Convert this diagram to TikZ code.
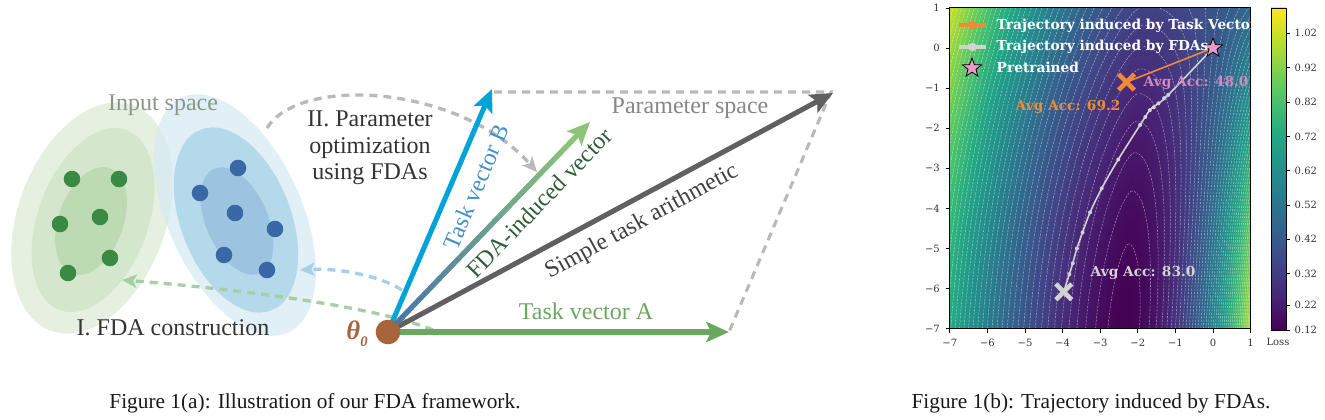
\documentclass[tikz,border=0pt]{standalone}
\usepackage{fontspec}
\setmainfont{Liberation Serif}
\newfontfamily\plotfont{DejaVu Serif}
\usetikzlibrary{arrows.meta,calc,shapes.geometric,shapes.misc}

\definecolor{tvA}{HTML}{6AA760}
\definecolor{tvB}{HTML}{00A3D9}
\definecolor{fdaS}{HTML}{4A70AD}
\definecolor{fdaE}{HTML}{8CC47A}
\definecolor{simp}{HTML}{606060}
\definecolor{thetac}{HTML}{A8643A}
\definecolor{lblB}{HTML}{4590C8}
\definecolor{lblF}{HTML}{2F5D36}
\definecolor{lblS}{HTML}{404040}
\definecolor{lblP}{HTML}{868686}
\definecolor{lblIn}{HTML}{8A968A}
\definecolor{txt}{HTML}{333333}
\definecolor{dashG}{HTML}{B9B9B9}
\definecolor{dashB}{HTML}{A9CEE8}
\definecolor{dashGr}{HTML}{A7CFA5}
\definecolor{gA}{HTML}{E6F0E0}
\definecolor{gB}{HTML}{D4E7CC}
\definecolor{gC}{HTML}{BCDBB2}
\definecolor{bA}{HTML}{D7EAF3}
\definecolor{bB}{HTML}{B3D9EB}
\definecolor{bC}{HTML}{9CC3DF}
\definecolor{dotG}{HTML}{3A8A46}
\definecolor{dotB}{HTML}{3A68A6}
\definecolor{orangeT}{HTML}{F08A35}
\definecolor{grayT}{HTML}{D2D2D2}
\definecolor{pinkS}{HTML}{E69BC9}
\definecolor{pinkT}{HTML}{D08AC0}

\definecolor{v0}{RGB}{68,1,84}
\definecolor{v1}{RGB}{72,36,117}
\definecolor{v2}{RGB}{65,68,135}
\definecolor{v3}{RGB}{53,95,141}
\definecolor{v4}{RGB}{42,120,142}
\definecolor{v5}{RGB}{33,145,140}
\definecolor{v6}{RGB}{34,168,132}
\definecolor{v7}{RGB}{68,191,112}
\definecolor{v8}{RGB}{122,209,81}
\definecolor{v9}{RGB}{189,223,38}
\definecolor{v10}{RGB}{253,231,37}
\definecolor{v11}{RGB}{253,231,37}

\pgfdeclareverticalshading{virbar}{100bp}{rgb(0bp)=(0.267,0.004,0.329); rgb(25bp)=(0.267,0.004,0.329); rgb(30bp)=(0.282,0.141,0.459); rgb(35bp)=(0.255,0.267,0.529); rgb(40bp)=(0.208,0.373,0.553); rgb(45bp)=(0.165,0.471,0.557); rgb(50bp)=(0.129,0.569,0.549); rgb(55bp)=(0.133,0.659,0.518); rgb(60bp)=(0.267,0.749,0.439); rgb(65bp)=(0.478,0.820,0.318); rgb(70bp)=(0.741,0.875,0.149); rgb(75bp)=(0.992,0.906,0.145); rgb(100bp)=(0.992,0.906,0.145)}

\tikzset{
  lbl/.style={font=\fontsize{18}{20}\selectfont},
  vec/.style={line width=3.8pt, -{Stealth[length=17pt,width=15pt,inset=3.5pt]}},
  dsh/.style={line width=2.5pt, dash pattern=on 6pt off 4.5pt, -{Stealth[length=11pt,width=10pt,inset=2.5pt]}},
  pdash/.style={line width=2.3pt, dash pattern=on 6pt off 4.5pt, dashG},
  cline/.style={draw=white, opacity=0.5, line width=0.4pt, dash pattern=on 1.6pt off 1pt},
  pfont/.style={font=\plotfont\bfseries\fontsize{10.3}{12}\selectfont},
  tfont/.style={font=\plotfont\fontsize{7.5}{9}\selectfont, text=txt},
  declare function={xc(\u)=-2.4+0.07*(\u+7); aR(\u)=0.075-0.0009*(\u+7)^2;
    lossf(\u,\v)=0.12+0.0028*(\v+7.2)^2+(((\u-xc(\v))>0) ? (aR(\v)*(\u-xc(\v))^2) : (0.06*abs(\u-xc(\v))*sqrt(abs(\u-xc(\v)))));}
}

\begin{document}
\begin{tikzpicture}[x=0.75pt,y=-0.75pt]
\useasboundingbox (0,0) rectangle (1325,420);

% ---------- input space ellipses ----------
\fill[gA, rotate around={70:(92,218)}] (92,218) ellipse [x radius=120, y radius=74];
\fill[gB, rotate around={69.6:(93,220)}] (93,220) ellipse [x radius=96, y radius=55];
\fill[gC, rotate around={70.6:(91,221)}] (91,221) ellipse [x radius=56, y radius=32.5];
\fill[bA, fill opacity=0.75, rotate around={-65.7:(235,215)}] (235,215) ellipse [x radius=129, y radius=67];
\fill[bB, rotate around={-68.7:(236,220)}] (236,220) ellipse [x radius=97, y radius=55];
\fill[bC, rotate around={-66.3:(237,221)}] (237,221) ellipse [x radius=57, y radius=31];

\foreach \p in {(72,179),(119,179),(60,224),(100,217),(110,258),(68,273)}
  \fill[dotG] \p circle (6.2pt);
\foreach \p in {(238,168),(200,193),(235,213),(275,229),(224,255),(267,270)}
  \fill[dotB] \p circle (6.2pt);

\node[lbl, text=lblIn] (inp) at (163,105) {Input space};
\node[lbl, text=txt] (fdac) at (173,328) {I. FDA construction};
\node[lbl, text=txt, align=center] (popt) at (370,148) {II. Parameter\\optimization\\using FDAs};

% ---------- coordinates ----------
\coordinate (O) at (388,332);
\coordinate (TA) at (729,332);
\coordinate (TB) at (492,89);
\coordinate (TF) at (590,122);
\coordinate (TS) at (833,93);
\coordinate (PB) at (494,92);
\coordinate (PS) at (831,92);
\coordinate (gs) at (433,330);
\coordinate (ge) at (122,280);
\coordinate (bs) at (402,290);
\coordinate (be) at (300,270);
\coordinate (ps) at (267,128);
\coordinate (pe) at (537,172);

% dashed curves
\draw[dsh, dashGr] (gs) .. controls (380,308) and (250,290) .. (ge);
\draw[dsh, dashB] (bs) .. controls (380,276) and (340,268) .. (be);
\draw[dsh, dashG] (ps) .. controls (300,75) and (460,85) .. (pe);
\draw[pdash] (PB) -- (PS) -- (TA);

% ---------- vectors ----------
\draw[vec, tvA] (O) -- (TA);
\draw[vec, simp] (O) -- (TS);
\draw[vec, fdaE] (O) -- (TF);
\foreach \i in {0,...,39}{
  \pgfmathsetmacro\pc{100*\i/39}
  \draw[line width=3.8pt, color=fdaE!\pc!fdaS] ($(O)!{\i*0.925/40}!(TF)$) -- ($(O)!{(\i+1)*0.925/40+0.003}!(TF)$);
}
\draw[vec, tvB] (O) -- (TB);

\node[lbl, text=lblB, rotate=66.8] (lB) at (476,187) {Task vector B};
\node[lbl, text=lblF, rotate=46] (lF) at (539,203) {FDA-induced vector};
\node[lbl, text=lblS, rotate=28.6] (lS) at (642,222) {Simple task arithmetic};
\node[lbl, text=tvA] (lA) at (586,311) {Task vector A};
\node[lbl, text=lblP] (lP) at (690,108) {Parameter space};

\node[circle, fill=thetac, minimum size=18.5pt, inner sep=0pt] (th) at (O) {};
\node[text=thetac, inner sep=0pt] (thl) at (357,334) {\fontsize{20}{20}\selectfont\bfseries\itshape θ\raisebox{-0.28em}{\fontsize{11}{11}\selectfont 0}};

% ---------- heat map ----------
\begin{scope}[shift={(1213,48)}, x=28.2pt, y=30.075pt]
  \begin{scope}
    \clip (-7,-7) rectangle (1,1);
    \foreach \r in {0,...,79}{
      \pgfmathsetmacro\yc{-7+(\r+0.5)*0.1}
      \foreach \j in {0,...,25}{
        \pgfmathsetmacro\xv{-7+\j*0.32}
        \pgfmathsetmacro\fv{lossf(\xv,\yc)}
        \pgfmathsetmacro\vv{max(0,min(9.999,(\fv-0.12)/0.0976))}
        \pgfmathtruncatemacro\ii{\vv}
        \pgfmathtruncatemacro\jj{\ii+1}
        \pgfmathtruncatemacro\pct{round(100*(\vv-\ii))}
        \colorlet{cc}{v\jj!\pct!v\ii}
        \extractcolorspecs{cc}{\mdl}{\spc}
        \convertcolorspec{\mdl}{\spc}{rgb}\rgbs
        \pgfmathsetmacro\pos{25+\j*2}
        \ifnum\j=0 \xdef\spec{rgb(0bp)=(\rgbs)}\fi
        \xdef\spec{\spec; rgb(\pos bp)=(\rgbs)}
        \ifnum\j=25 \xdef\spec{\spec; rgb(100bp)=(\rgbs)}\fi
      }
      \edef\tmp{\noexpand\pgfdeclarehorizontalshading{vrow\r}{100bp}{\spec}}\tmp
      \pgfmathsetmacro\ya{-7+\r*0.1}
      \pgfmathsetmacro\yb{\ya+0.104}
      \shade[shading=vrow\r] (-7,\ya) rectangle (1,\yb);
    }
    \foreach \L in {0.135,0.157,...,1.09}{
      \pgfmathsetmacro\s{\L-0.12}
      \pgfmathsetmacro\R{sqrt(\s/0.0028)}
      \pgfmathsetmacro\tA{asin(0.2/\R)}
      \pgfmathsetmacro\tB{min(89.5,asin(min(1,8.2/\R)))}
      \draw[cline] plot[variable=\q, domain=\tA:\tB, samples=30, smooth]
        ({xc(-7.2+\R*sin(\q))+sqrt(\s)*cos(\q)/sqrt(aR(-7.2+\R*sin(\q)))}, {-7.2+\R*sin(\q)});
      \draw[cline] plot[variable=\q, domain=\tA:\tB, samples=30, smooth]
        ({xc(-7.2+\R*sin(\q))-pow(max(\s*cos(\q)^2/0.06,0.0001),2/3)}, {-7.2+\R*sin(\q)});
    }
  \end{scope}
  \draw[black, line width=0.6pt] (-7,-7) rectangle (1,1);
  \foreach \k/\t in {-7/−7,-6/−6,-5/−5,-4/−4,-3/−3,-2/−2,-1/−1,0/0,1/1}{
    \draw[line width=0.5pt] (\k,-7) -- ++(0,-3pt);
    \node[tfont, anchor=north] at ($(\k,-7)+(0,-4pt)$) {\t};
    \draw[line width=0.5pt] (-7,\k) -- ++(-3pt,0);
    \node[tfont, anchor=east] at ($(-7,\k)+(-4pt,0)$) {\t};
  }
  % trajectories
  \coordinate (st) at (0,0);
  \coordinate (xo) at (-2.3,-0.85);
  \coordinate (xg) at (-3.97,-6.08);
  \draw[orangeT, line width=1.2pt] (st) -- (xo);
  \draw[grayT, line width=1.2pt] plot[smooth] coordinates {(0,0) (-1.19,-1.17) (-1.45,-1.38) (-1.68,-1.55) (-1.94,-1.92) (-2.52,-2.78) (-2.96,-3.50) (-3.27,-4.10) (-3.47,-4.60) (-3.62,-5.0) (-3.73,-5.37) (-3.82,-5.64) (-3.97,-6.08)};
  \foreach \p in {(-1.19,-1.17),(-1.3,-1.25),(-1.45,-1.38),(-1.58,-1.48),(-1.68,-1.55),(-1.8,-1.72),(-1.94,-1.92),(-2.52,-2.78),(-2.96,-3.50),(-3.27,-4.10),(-3.47,-4.60),(-3.62,-5.0),(-3.73,-5.37),(-3.82,-5.64)}
    \fill[grayT] \p circle (1.5pt);
  \node[cross out, draw=orangeT, line width=3.4pt, minimum size=8.5pt, inner sep=0pt] (mo) at (xo) {};
  \node[cross out, draw=grayT, line width=3.4pt, minimum size=8.5pt, inner sep=0pt] (mg) at (xg) {};
  \node[star, star points=5, star point ratio=2.4, fill=pinkS, draw=black, line width=0.6pt, minimum size=15pt, inner sep=0pt] (ms) at (st) {};
\end{scope}

% annotations
\node[pfont, text=pinkT, anchor=west] (a48) at (1139,83) {Avg Acc: 48.0};
\node[pfont, text=orangeT, anchor=west] (a69) at (1011,107) {Avg Acc: 69.2};
\node[pfont, text=grayT, anchor=west] (a83) at (1086,273) {Avg Acc: 83.0};

% legend
\coordinate (l1a) at (959,25); \coordinate (l1b) at (986,25);
\coordinate (l2a) at (959,47); \coordinate (l2b) at (986,47);
\draw[orangeT, line width=3.2pt] (l1a) -- (l1b);
\fill[orangeT] (972.5,25) circle (3.2pt);
\draw[grayT, line width=3.2pt] (l2a) -- (l2b);
\fill[grayT] (972.5,47) circle (3.2pt);
\node[star, star points=5, star point ratio=2.4, fill=pinkS, draw=black, line width=0.6pt, minimum size=15pt, inner sep=0pt] (lgs) at (972,68) {};
\begin{scope}
  \clip (949.8,7.9) rectangle (1250.6,328.7);
  \node[pfont, text=white, anchor=west] (lt1) at (992,26) {Trajectory induced by Task Vector};
  \node[pfont, text=white, anchor=west] (lt2) at (992,47) {Trajectory induced by FDAs};
  \node[pfont, text=white, anchor=west] (lt3) at (992,67) {Pretrained};
\end{scope}

% colorbar
\shade[shading=virbar] (1271,8) rectangle (1286,330);
\draw[black, line width=0.5pt] (1271,8) rectangle (1286,330);
\foreach \v/\yy in {1.02/33.3,0.92/67.7,0.82/102.2,0.72/136.6,0.62/170.8,0.52/205,0.42/239.3,0.32/273.5,0.22/305,0.12/330}{
  \draw[line width=0.5pt] (1286,\yy) -- (1290,\yy);
  \node[tfont, anchor=west] at (1290,\yy) {\v};
}
\node[tfont] (loss) at (1278,342) {Loss};

% captions
\node[font=\fontsize{16}{18}\selectfont, text=black!90] (cap1) at (315,403) {Figure 1(a): Illustration of our FDA framework.};
\node[font=\fontsize{16}{18}\selectfont, text=black!90] (cap2) at (1091,403) {Figure 1(b): Trajectory induced by FDAs.};
\end{tikzpicture}
\end{document}
